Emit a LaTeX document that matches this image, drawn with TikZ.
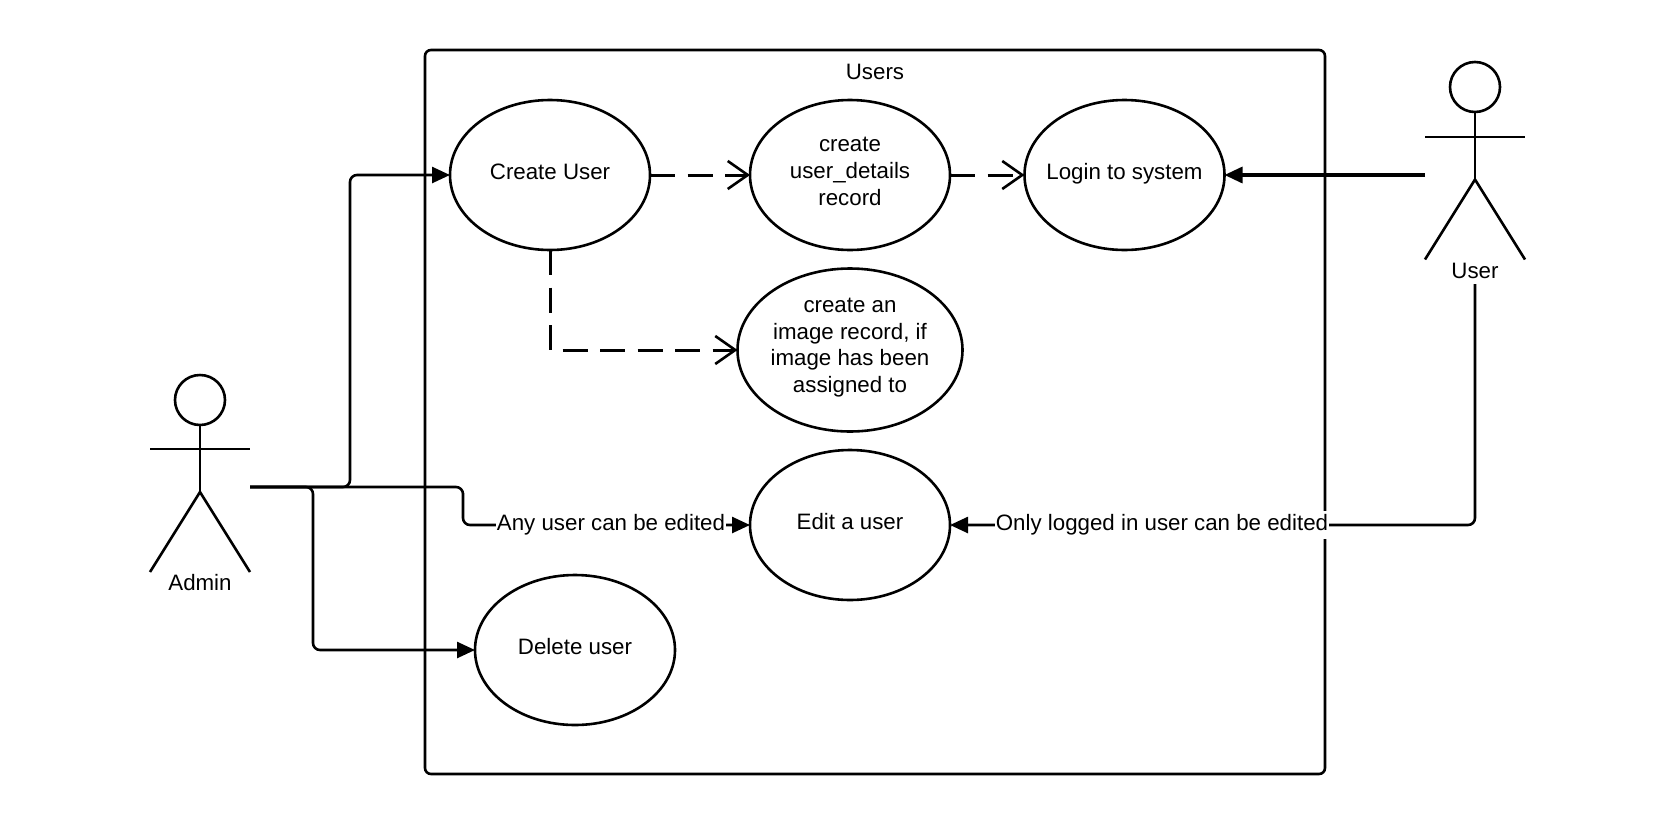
\documentclass[tikz,border=0pt]{standalone}
\usepackage{fontspec}
\setmainfont{Liberation Sans}
\usetikzlibrary{shapes.geometric,arrows.meta}
\tikzset{
  ln/.style={line width=2.6pt,draw=black},
  uc/.style={ln,ellipse,fill=white,inner sep=0pt,outer sep=0pt,minimum width=200pt,minimum height=150pt},
  uctext/.style={font=\fontsize{22.3}{26.7}\selectfont,align=center,inner sep=0pt,yshift=3.5pt},
  ucline/.style={font=\fontsize{22.3}{26.7}\selectfont,inner sep=0pt,text height=16pt,text depth=5pt,yshift=1.5pt},
  txt/.style={font=\fontsize{22.3}{26.7}\selectfont,inner sep=0pt},
  lbl/.style={txt,fill=white,inner xsep=1pt,inner ysep=4pt},
  conn/.style={ln,rounded corners=7pt,-{Triangle[length=18pt,width=16pt]}},
  dep/.style={ln,line width=3pt,dash pattern=on 25pt off 12.5pt,-{Straight Barb[length=20pt,width=28pt,line width=2.6pt]}},
}
\begin{document}
\begin{tikzpicture}[x=1pt,y=-1pt]
\useasboundingbox[fill=white] (0,0) rectangle (1675,825);
% system boundary
\node[ln,rectangle,rounded corners=6pt,minimum width=900pt,minimum height=724pt,inner sep=0pt] (users) at (875,412) {};
\node[txt] (userstitle) at (875,72) {Users};
% use cases
\node[uc,label={[ucline]center:Create User}] (create) at (550,175) {};
\node[uc,label={[uctext]center:create\\user\_details\\record}] (details) at (850,175) {};
\node[uc,label={[ucline]center:Login to system}] (login) at (1124.5,175) {};
\node[uc,minimum width=225pt,minimum height=163pt,label={[uctext,yshift=-1pt]center:create an\\image record, if\\image has been\\assigned to}] (image) at (850,350) {};
\node[uc,label={[ucline]center:Edit a user}] (edit) at (850,525) {};
\node[uc,label={[ucline]center:Delete user}] (delete) at (575,650) {};
% Admin actor
\node[ln,circle,minimum size=50pt,inner sep=0pt] (adminhead) at (200,400) {};
\coordinate (adminhip) at (200,492);
\coordinate (adminarml) at (150,449);
\coordinate (adminarmr) at (250,449);
\coordinate (adminfootl) at (150,572);
\coordinate (adminfootr) at (250,572);
\draw[ln] (adminhead.south) -- (adminhip);
\draw[ln] (adminarml) -- (adminarmr);
\draw[ln] (adminfootl) -- (adminhip) -- (adminfootr);
\node[txt] (adminname) at (200,583) {Admin};
% User actor
\node[ln,circle,minimum size=50pt,inner sep=0pt] (userhead) at (1475,87) {};
\coordinate (userhip) at (1475,179.5);
\coordinate (userarml) at (1425,137);
\coordinate (userarmr) at (1525,137);
\coordinate (userfootl) at (1425,259.5);
\coordinate (userfootr) at (1525,259.5);
\draw[ln] (userhead.south) -- (userhip);
\draw[ln] (userarml) -- (userarmr);
\draw[ln] (userfootl) -- (userhip) -- (userfootr);
\node[txt] (username) at (1475,270.5) {User};
% connector ends and bends
\coordinate (adminout) at (250,487);
\coordinate (useract) at (1425,175);
\coordinate (userout) at (1475,284);
\coordinate (bendcreate) at (350,300);
\coordinate (bendedit) at (463,500);
\coordinate (benddelete) at (313,560);
% connectors
\draw[conn] (adminout) -| (bendcreate) |- (create.west);
\draw[conn] (adminout) -| (benddelete) |- (delete.west);
\draw[conn] (adminout) -| (bendedit) |- (edit.west);
\draw[conn] (userout) |- (edit.east);
\draw[conn,line width=3.2pt] (useract) -- (login.east);
\draw[dep] (create.east) -- (details.west);
\draw[dep] (details.east) -- (login.west);
\draw[dep] (create.south) |- (image.west);
% connector labels
\node[lbl] (anylabel) at (611,525) {Any user can be edited};
\node[lbl] (onlylabel) at (1162,525) {Only logged in user can be edited};
\end{tikzpicture}
\end{document}
